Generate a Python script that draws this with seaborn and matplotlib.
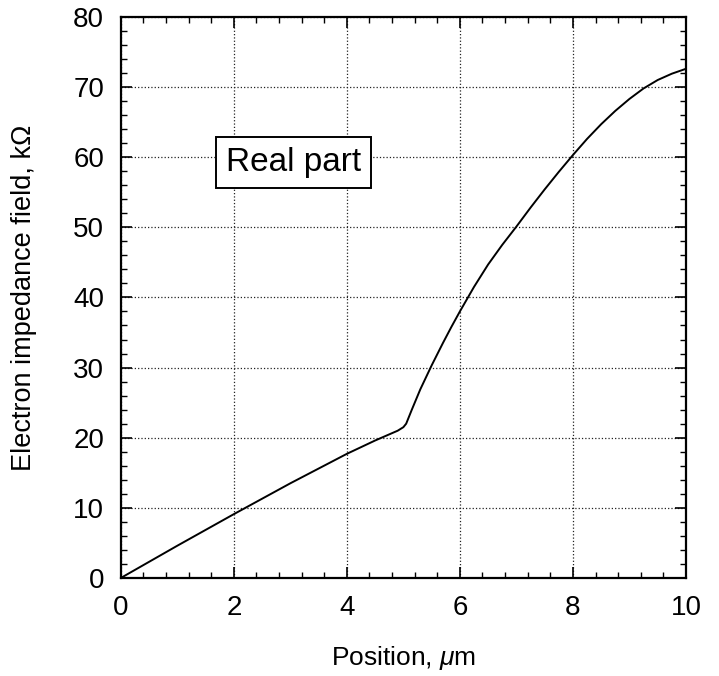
import numpy as np
import pandas as pd
import matplotlib
matplotlib.use("Agg")
import matplotlib.pyplot as plt
import seaborn as sns
from matplotlib.ticker import MultipleLocator

# curve
position = [0, 1, 2, 3, 4, 4.5, 4.9, 5.0, 5.05, 5.15, 5.3, 5.5, 5.7, 5.85, 6.0,
            6.25, 6.5, 6.75, 7.0, 7.25, 7.5, 7.75, 8.0, 8.25, 8.5, 8.75,
            9.0, 9.25, 9.5, 9.75, 10]
impedance = [0, 4.6, 9.1, 13.5, 17.7, 19.6, 21.0, 21.5, 22.0, 24.0, 26.9,
             30.3, 33.5, 35.8, 38.0, 41.5, 44.7, 47.5, 50.1, 52.8, 55.4,
             57.9, 60.3, 62.6, 64.7, 66.6, 68.3, 69.8, 71.0, 71.9, 72.6]

df = pd.DataFrame({"pos": position, "z": impedance})

sns.set_style("ticks")
plt.rcParams['font.family'] = ['Liberation Sans', 'DejaVu Sans']
plt.rcParams['mathtext.fontset'] = 'custom'
plt.rcParams['mathtext.it'] = 'Liberation Sans:italic'
plt.rcParams['mathtext.rm'] = 'Liberation Sans'
plt.rcParams['text.color'] = 'black'
plt.rcParams['axes.labelcolor'] = 'black'

fig = plt.figure(figsize=(7.19, 6.76), dpi=100)
ax = fig.add_axes([0.168, 0.145, 0.786, 0.830])

sns.lineplot(data=df, x="pos", y="z", ax=ax, color="black", linewidth=1.4)

ax.set_xlim(0, 10)
ax.set_ylim(0, 80)
ax.xaxis.set_major_locator(MultipleLocator(2))
ax.xaxis.set_minor_locator(MultipleLocator(0.4))
ax.yaxis.set_major_locator(MultipleLocator(10))
ax.yaxis.set_minor_locator(MultipleLocator(2))
ax.tick_params(which="both", direction="in", top=True, right=True, colors="black")
ax.tick_params(which="major", length=8, width=1.2, labelsize=20, pad=12)
ax.tick_params(which="minor", length=4, width=1.0)
ax.grid(True, which="major", linestyle=":", color="#222222", linewidth=0.9)
for s in ax.spines.values():
    s.set_linewidth(1.6)
    s.set_color("black")

ax.set_xlabel(r"Position, $\mathit{\mu}$m", fontsize=19, labelpad=17)
ax.set_ylabel("Electron impedance field, kΩ", fontsize=19.5, labelpad=26)

ax.text(3.05, 59.2, "Real part", fontsize=24, ha="center", va="center",
        bbox=dict(boxstyle="square,pad=0.3", facecolor="white", edgecolor="black", linewidth=1.4))

fig.savefig("out.png", dpi=100)
